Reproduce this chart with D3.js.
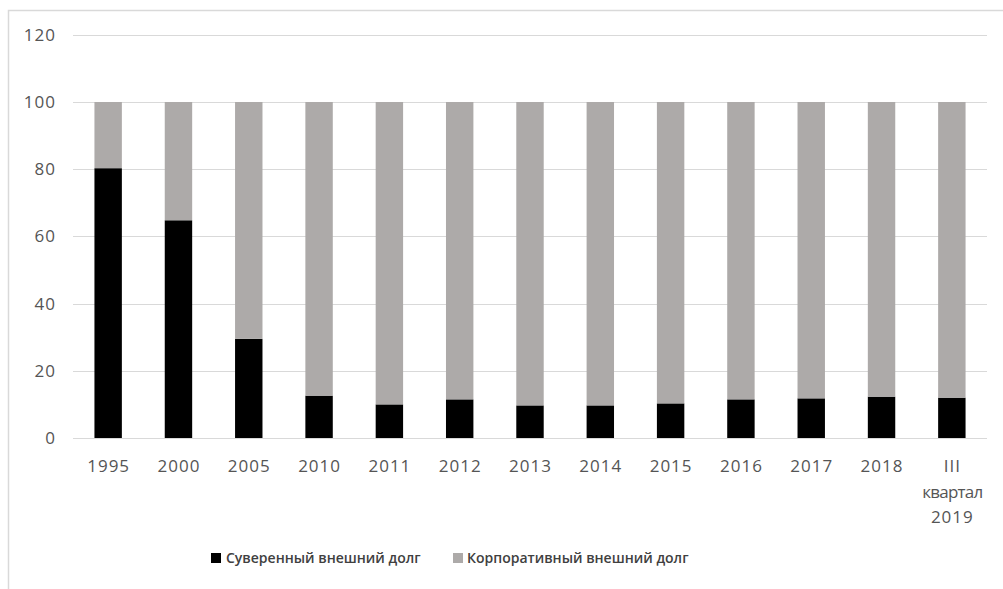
<!DOCTYPE html>
<html><head><meta charset="utf-8">
<script src="https://cdn.jsdelivr.net/npm/d3@7"></script>
<style>body{margin:0;background:#fff}svg{display:block}</style>
</head><body><svg id="c" width="1003" height="589"></svg>
<script>
const categories = ["1995","2000","2005","2010","2011","2012","2013","2014","2015","2016","2017","2018","III квартал 2019"];
const sovereign = [80.3,64.8,29.5,12.6,10.0,11.5,9.7,9.7,10.3,11.5,11.8,12.3,12.0];
const corporate = sovereign.map(v => 100 - v);
const seriesNames = ["Суверенный внешний долг","Корпоративный внешний долг"];
const colors = ["#000000","#ADAAA9"];
const yTicks = [0,20,40,60,80,100,120];

const svg = d3.select("#c");
const font = "'Open Sans', 'DejaVu Sans', sans-serif";
// frame
svg.append("path").attr("d","M8.5,589 V10.5 H1003").attr("fill","none").attr("stroke","#d9d9d9").attr("stroke-width",1.5);

const x = d3.scaleBand().domain(categories).range([73,987]).paddingInner(0.61).paddingOuter(0.305);
const y = d3.scaleLinear().domain([0,120]).range([438,34.8]);

svg.append("g").selectAll("line").data(yTicks).join("line")
  .attr("x1",73).attr("x2",987).attr("y1",d=>Math.round(y(d))+0.5).attr("y2",d=>Math.round(y(d))+0.5)
  .attr("stroke","#d9d9d9").attr("stroke-width",1);

const rows = categories.map((c,i)=>({cat:c, s:sovereign[i], k:corporate[i]}));
const stack = d3.stack().keys(["s","k"])(rows);
svg.append("g").selectAll("g").data(stack).join("g").attr("fill",(d,i)=>colors[i])
  .selectAll("rect").data(d=>d).join("rect")
  .attr("x",d=>x(d.data.cat)).attr("width",x.bandwidth())
  .attr("y",d=>y(d[1])).attr("height",d=>y(d[0])-y(d[1]));

// y labels
svg.append("g").selectAll("text").data(yTicks).join("text")
  .attr("x",56).attr("y",d=>y(d)).attr("dy","0.35em").attr("text-anchor","end")
  .attr("font-family",font).attr("font-size",17).attr("letter-spacing",1).attr("fill","#555555").text(d=>d);

// x labels
const xl = svg.append("g").selectAll("text").data(categories).join("text")
  .attr("x",d=>x(d)+x.bandwidth()/2).attr("y",472).attr("text-anchor","middle")
  .attr("font-family",font).attr("font-size",17).attr("fill","#555555").attr("letter-spacing",1);
xl.each(function(d){
  const parts = d.startsWith("III") ? ["III","квартал","2019"] : [d];
  d3.select(this).selectAll("tspan").data(parts).join("tspan")
    .attr("x",x(d)+x.bandwidth()/2+0.5).attr("dy",(p,i)=>i===0?0:"1.5em")
    .attr("letter-spacing",p=>p==="квартал"?-0.8:null).text(p=>p);
});

// legend
const leg = [{x:211,tx:226},{x:453,tx:467}];
seriesNames.forEach((n,i)=>{
  svg.append("rect").attr("x",leg[i].x).attr("y",553).attr("width",10).attr("height",10).attr("fill",colors[i]);
  svg.append("text").attr("x",leg[i].tx).attr("y",558).attr("dy","0.35em")
    .attr("font-family",font).attr("font-size",14).attr("fill","#404040").attr("font-weight","600").text(n);
});
</script></body></html>
